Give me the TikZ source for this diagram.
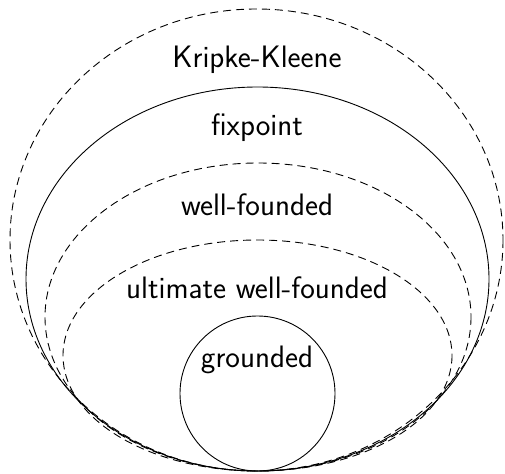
\documentclass[tikz,border=0pt]{standalone}
\begin{document}
\begin{tikzpicture}[x=1pt,y=-1pt,
  lbl/.style={font=\sffamily\fontsize{31}{36}\selectfont, inner sep=0pt},
  dsh/.style={line width=0.9pt, dash pattern=on 8pt off 5pt},
  sld/.style={line width=0.9pt}]
\useasboundingbox (0,0) rectangle (505,473);
\draw[dsh] (256.5,240) ellipse [x radius=246.5, y radius=231];
\draw[sld] (257.5,279) ellipse [x radius=231.5, y radius=192];
\draw[dsh] (258,317) ellipse [x radius=213, y radius=154];
\draw[dsh] (257.5,355.5) ellipse [x radius=194.5, y radius=115.5];
\draw[sld] (257.5,393.5) circle [radius=77.5];
\node[lbl] (kk) at (257,60) {Kripke-Kleene};
\node[lbl] (fp) at (257,128) {fixpoint};
\node[lbl] (wf) at (257,205) {well-founded};
\node[lbl] (uwf) at (257,288) {ultimate well-founded};
\node[lbl] (gr) at (257,360) {grounded};
\end{tikzpicture}
\end{document}
